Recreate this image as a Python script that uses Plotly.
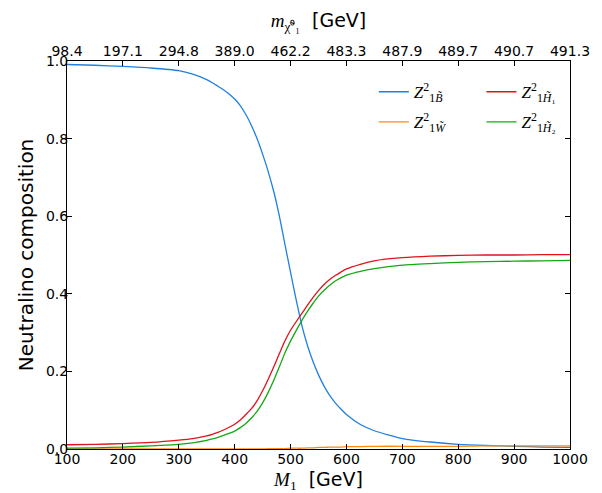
import plotly.graph_objects as go

# ---- data ----
M1 = [100, 150, 200, 250, 300, 325, 350, 360, 370, 380, 390, 400, 410, 420, 430, 440,
      450, 460, 470, 480, 490, 500, 510, 520, 530, 540, 550, 560, 570, 580, 590, 600,
      625, 650, 700, 750, 800, 850, 900, 950, 1000]
Z_bino = [0.991, 0.989, 0.986, 0.982, 0.975, 0.966, 0.952, 0.944, 0.935, 0.926, 0.915,
          0.902, 0.885, 0.862, 0.834, 0.800, 0.760, 0.715, 0.663, 0.600, 0.527, 0.455,
          0.385, 0.320, 0.268, 0.226, 0.191, 0.162, 0.138, 0.119, 0.103, 0.089,
          0.063, 0.047, 0.027, 0.018, 0.012, 0.009, 0.007, 0.005, 0.004]
Z_wino = [0.000, 0.000, 0.000, 0.000, 0.000, 0.000, 0.000, 0.000, 0.000, 0.000, 0.000,
          0.000, 0.000, 0.000, 0.000, 0.000, 0.000, 0.001, 0.001, 0.001, 0.001, 0.002,
          0.002, 0.002, 0.003, 0.003, 0.004, 0.004, 0.005, 0.005, 0.005, 0.006,
          0.006, 0.007, 0.007, 0.007, 0.007, 0.008, 0.008, 0.008, 0.008]
Z_h1 = [0.011, 0.012, 0.014, 0.017, 0.023, 0.027, 0.034, 0.038, 0.043, 0.049, 0.056,
        0.064, 0.075, 0.089, 0.104, 0.124, 0.150, 0.180, 0.212, 0.246, 0.279, 0.306,
        0.328, 0.349, 0.370, 0.390, 0.408, 0.424, 0.437, 0.447, 0.456, 0.464,
        0.476, 0.485, 0.493, 0.497, 0.499, 0.500, 0.500, 0.501, 0.501]
Z_h2 = [0.002, 0.003, 0.005, 0.008, 0.012, 0.016, 0.022, 0.026, 0.030, 0.035, 0.040,
        0.046, 0.055, 0.066, 0.080, 0.097, 0.119, 0.146, 0.177, 0.212, 0.248, 0.278,
        0.305, 0.331, 0.354, 0.375, 0.394, 0.409, 0.422, 0.433, 0.441, 0.448,
        0.458, 0.465, 0.474, 0.478, 0.481, 0.483, 0.484, 0.485, 0.486]

x_ticks = [100, 200, 300, 400, 500, 600, 700, 800, 900, 1000]
top_tick_labels = ["98.4", "197.1", "294.8", "389.0", "462.2", "483.3",
                   "487.9", "489.7", "490.7", "491.3"]
y_ticks = [0.0, 0.2, 0.4, 0.6, 0.8, 1.0]

SERIF = "Liberation Serif"
SANS = "DejaVu Sans"

series = [
    ("<i>Z</i><sup>2</sup><sub>1<i>B̃</i></sub>", Z_bino, "#1f80e0", "legend", "gB"),
    ("<i>Z</i><sup>2</sup><sub>1<i>W̃</i></sub>", Z_wino, "#ff8a12", "legend", "gW"),
    ("<i>Z</i><sup>2</sup><sub>1<i>H̃</i>₁</sub>", Z_h1, "#e0121c", "legend2", "gH1"),
    ("<i>Z</i><sup>2</sup><sub>1<i>H̃</i>₂</sub>", Z_h2, "#12aa12", "legend2", "gH2"),
]

fig = go.Figure()
for name, vals, col, leg, grp in series:
    fig.add_trace(go.Scatter(
        x=M1, y=vals, mode="lines", name=name,
        line=dict(color=col, width=1.3, shape="spline", smoothing=0.5),
        legend=leg, legendgroup=grp, showlegend=True,
    ))

# invisible trace to carry the top axis
fig.add_trace(go.Scatter(x=x_ticks, y=[None] * len(x_ticks), xaxis="x2",
                         showlegend=False, hoverinfo="skip"))

axis_common = dict(showgrid=False, zeroline=False, showline=True, linecolor="black",
                   linewidth=1, ticks="inside", ticklen=5, tickwidth=1, automargin=False,
                   tickcolor="black", tickfont=dict(family=SANS, size=14, color="black"))

fig.update_layout(
    width=602, height=493,
    margin=dict(l=67, r=32, t=61, b=44),
    paper_bgcolor="white", plot_bgcolor="white",
    font=dict(family=SANS, color="black"),
    xaxis=dict(range=[100, 1000], tickvals=x_ticks, ticktext=[str(v) for v in x_ticks],
               ticklabelstandoff=-3,
               title=dict(text='<span style="font-family:Liberation Serif"><i>M</i><sub>1</sub></span>  [GeV]',
                          font=dict(family=SANS, size=19), standoff=7),
               **axis_common),
    xaxis2=dict(range=[100, 1000], overlaying="x", side="top", anchor="y",
                tickvals=x_ticks, ticktext=top_tick_labels, ticklabelstandoff=-2,
                title=dict(text='<span style="font-family:Liberation Serif"><i>m</i><sub>χ̃⁰₁</sub></span>  [GeV]',
                           font=dict(family=SANS, size=19), standoff=10),
                **axis_common),
    yaxis=dict(range=[0, 1], tickvals=y_ticks, tickformat=".1f", mirror="ticks",
               ticklabelstandoff=-5,
               title=dict(text="Neutralino composition", font=dict(family=SANS, size=20),
                          standoff=6),
               **axis_common),
    legend=dict(x=0.61, y=0.966, xanchor="left", yanchor="top", bgcolor="rgba(0,0,0,0)",
                font=dict(family=SERIF, size=17), tracegroupgap=5, itemwidth=30),
    legend2=dict(x=0.824, y=0.966, xanchor="left", yanchor="top", bgcolor="rgba(0,0,0,0)",
                 font=dict(family=SERIF, size=17), tracegroupgap=5, itemwidth=30),
)

fig.write_html("out.html", config={"displayModeBar": False},
               post_script="document.body.style.margin='0px';")
